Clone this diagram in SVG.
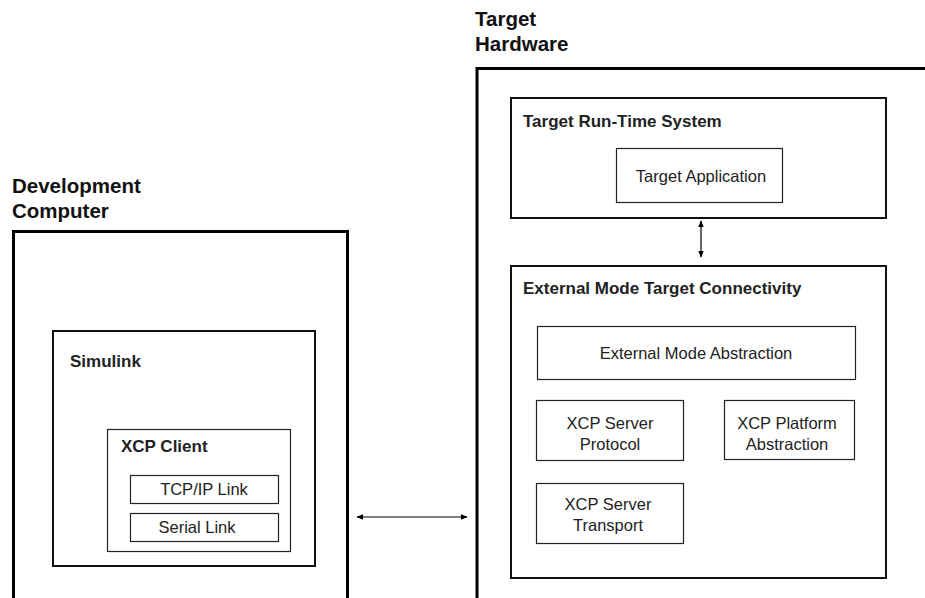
<svg xmlns="http://www.w3.org/2000/svg" width="925" height="598" viewBox="0 0 925 598">
<defs>
<style>
.outer{fill:none;stroke:#000;stroke-width:3}
.mid{fill:none;stroke:#111;stroke-width:2}
.inner{fill:#fff;stroke:#222;stroke-width:1.2}
.hdr{font-family:"Liberation Sans",Arial,sans-serif;font-weight:bold;font-size:20.5px;fill:#111}
.bt{font-family:"Liberation Sans",Arial,sans-serif;font-weight:bold;font-size:17px;fill:#222}
.t{font-family:"Liberation Sans",Arial,sans-serif;font-size:16.5px;fill:#222;text-anchor:middle}
.conn{stroke:#000;stroke-width:1.2;fill:none}
</style>
<marker id="ah" viewBox="0 0 10 10" refX="9" refY="5" markerWidth="7" markerHeight="7" markerUnits="userSpaceOnUse" orient="auto-start-reverse">
<path d="M0,1 L10,5 L0,9 Z" fill="#000"/>
</marker>
</defs>
<rect width="925" height="598" fill="#fff"/>

<g id="dev-computer">
<text class="hdr" x="12" y="193">Development</text>
<text class="hdr" x="12" y="218">Computer</text>
<rect class="outer" x="13.5" y="231.5" width="334" height="380"/>
</g>

<g id="simulink">
<rect class="mid" x="53" y="331" width="262" height="235"/>
<text class="bt" x="70" y="367">Simulink</text>
</g>

<g id="xcp-client">
<rect class="inner" x="107.5" y="429.5" width="183" height="122"/>
<text class="bt" x="121" y="452">XCP Client</text>
</g>

<g id="tcpip-link">
<rect class="inner" x="130.5" y="475.5" width="148" height="28"/>
<text class="t" x="204" y="495">TCP/IP Link</text>
</g>

<g id="serial-link">
<rect class="inner" x="130.5" y="513.5" width="148" height="28"/>
<text class="t" x="197" y="533">Serial Link</text>
</g>

<g id="target-hardware">
<text class="hdr" x="475" y="26">Target</text>
<text class="hdr" x="475" y="50.5">Hardware</text>
<path class="outer" d="M477,612 L477,68.5 L930,68.5"/>
</g>

<g id="target-runtime">
<rect class="mid" x="511" y="98" width="375" height="120"/>
<text class="bt" x="523" y="127">Target Run-Time System</text>
</g>

<g id="target-application">
<rect class="inner" x="616.5" y="148.5" width="166" height="54"/>
<text class="t" x="701" y="182">Target Application</text>
</g>

<g id="ext-mode-connectivity">
<rect class="mid" x="511" y="266" width="375" height="312"/>
<text class="bt" x="523" y="294">External Mode Target Connectivity</text>
</g>

<g id="ext-mode-abstraction">
<rect class="inner" x="537.5" y="326.5" width="318" height="53"/>
<text class="t" x="696" y="359">External Mode Abstraction</text>
</g>

<g id="xcp-server-protocol">
<rect class="inner" x="536.5" y="400.5" width="147" height="60"/>
<text class="t" x="610" y="429">XCP Server</text>
<text class="t" x="610" y="450">Protocol</text>
</g>

<g id="xcp-platform-abstraction">
<rect class="inner" x="724.5" y="400.5" width="130" height="59"/>
<text class="t" x="787" y="429">XCP Platform</text>
<text class="t" x="787" y="450">Abstraction</text>
</g>

<g id="xcp-server-transport">
<rect class="inner" x="536.5" y="483.5" width="147" height="60"/>
<text class="t" x="608" y="510">XCP Server</text>
<text class="t" x="608" y="531">Transport</text>
</g>

<g id="connectors">
<line class="conn" x1="357" y1="517" x2="467" y2="517" marker-start="url(#ah)" marker-end="url(#ah)"/>
<line class="conn" x1="701" y1="221" x2="701" y2="257" marker-start="url(#ah)" marker-end="url(#ah)"/>
</g>
</svg>
